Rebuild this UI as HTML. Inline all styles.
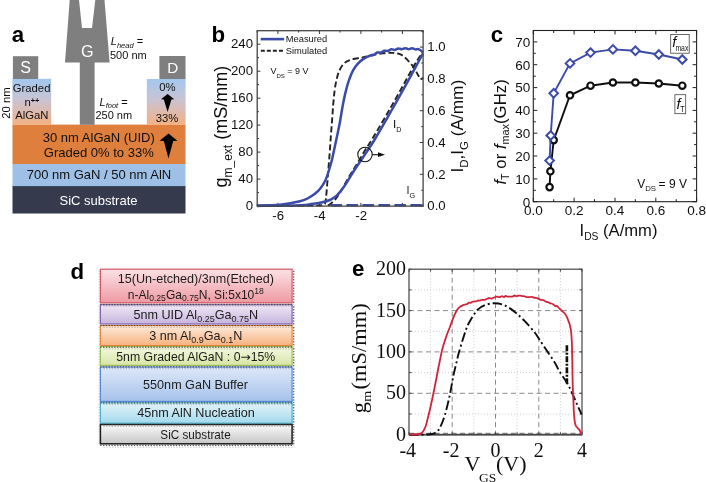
<!DOCTYPE html>
<html lang="en"><head><meta charset="utf-8"><title>Figure</title>
<style>html,body{margin:0;padding:0;background:#fff;}svg{display:block;}</style></head>
<body><svg width="706" height="482" viewBox="0 0 706 482">
<rect width="706" height="482" fill="#fff"/>
<defs><filter id="soft" x="0" y="0" width="706" height="482" filterUnits="userSpaceOnUse"><feGaussianBlur stdDeviation="0.45"/></filter></defs>
<g filter="url(#soft)">
<g id="pa" font-family="Liberation Sans, sans-serif">
<defs><linearGradient id="gr" x1="0" y1="0" x2="0" y2="1"><stop offset="0" stop-color="#a3c8ee"/><stop offset="0.45" stop-color="#c9c3d4"/><stop offset="1" stop-color="#f3b184"/></linearGradient></defs>
<rect x="12.5" y="185.8" width="173" height="27.7" fill="#343a4e"/>
<rect x="12.5" y="163.8" width="173" height="22.3" fill="#9fc0e6"/>
<rect x="12.5" y="124.6" width="173" height="39.4" fill="#de7f3e"/>
<rect x="12.4" y="78.8" width="38.8" height="46" fill="url(#gr)"/>
<rect x="146.8" y="79" width="38.8" height="45.8" fill="url(#gr)"/>
<rect x="12.9" y="56.2" width="25.3" height="22.8" fill="#7f7f7f"/>
<rect x="159.4" y="56" width="26.1" height="23" fill="#7f7f7f"/>
<path d="M69.7,0 L79,0 L82,28 L92,28 L95.3,0 L104.5,0 L109.6,62.6 L94.6,62.6 L94.6,124.8 L79.8,124.8 L79.8,62.6 L65,62.6 Z" fill="#7f7f7f"/>
<text transform="translate(11.8,42.4) scale(0.97,1)" font-size="23" font-weight="bold" fill="#000" font-family="Liberation Sans, sans-serif">a</text>
<text x="25.6" y="73.3" font-size="16" fill="#fff" text-anchor="middle">S</text>
<text x="172.7" y="73.2" font-size="15.3" fill="#fff" text-anchor="middle">D</text>
<text x="87.4" y="56.8" font-size="16.2" fill="#fff" text-anchor="middle">G</text>
<g font-size="11.3" fill="#111" text-anchor="middle">
<text x="31.6" y="92.4">Graded</text>
<text x="31.9" y="105.8">n<tspan font-size="7.4" font-weight="bold" dy="-3.2">++</tspan></text>
<text x="31.9" y="119.3">AlGaN</text>
<text transform="translate(10,103) rotate(-90)">20 nm</text>
<text x="167.4" y="91.3">0%</text>
<text x="167.1" y="122.2">33%</text>
</g>
<g font-size="11" fill="#111">
<text x="110.8" y="45.3"><tspan font-style="italic">L</tspan><tspan font-style="italic" font-size="7.5" dy="2.5">head</tspan><tspan dy="-2.5"> =</tspan></text>
<text x="110" y="58.5">500 nm</text>
<text x="99.5" y="105.8"><tspan font-style="italic">L</tspan><tspan font-style="italic" font-size="7.5" dy="2.5">foot</tspan><tspan dy="-2.5"> =</tspan></text>
<text x="95.4" y="119">250 nm</text>
</g>
<g font-size="13" fill="#111" text-anchor="middle">
<text x="98.8" y="141.7">30 nm AlGaN (UID)</text>
<text x="98.8" y="157">Graded 0% to 33%</text>
<text x="99" y="179.3">700 nm GaN / 50 nm AlN</text>
<text x="98.5" y="204.6" fill="#fff">SiC substrate</text>
</g>
<path d="M167.6,94 L174.2,99.3 L171.4,99.4 L167.6,112 L163.8,99.4 L161,99.3 Z" fill="#000"/>
<path d="M168.5,133.6 L177.4,140.7 L173.2,140.9 L168.5,158.5 L163.8,140.9 L159.6,140.7 Z" fill="#000"/>
</g>
<g id="pb" font-family="Liberation Sans, sans-serif">
<path d="M277.9,206.1 v-3.2 M277.9,30.7 v3.2 M319.4,206.1 v-3.2 M319.4,30.7 v3.2 M360.9,206.1 v-3.2 M360.9,30.7 v3.2 M402.4,206.1 v-3.2 M402.4,30.7 v3.2 M257.2,206.1 v-1.8 M257.2,30.7 v1.8 M298.7,206.1 v-1.8 M298.7,30.7 v1.8 M340.1,206.1 v-1.8 M340.1,30.7 v1.8 M381.6,206.1 v-1.8 M381.6,30.7 v1.8 M423.1,206.1 v-1.8 M423.1,30.7 v1.8 M257.2,206.1 h3.2 M257.2,179.1 h3.2 M257.2,152.1 h3.2 M257.2,125.1 h3.2 M257.2,98.2 h3.2 M257.2,71.2 h3.2 M257.2,44.2 h3.2 M257.2,192.6 h1.8 M257.2,165.6 h1.8 M257.2,138.6 h1.8 M257.2,111.7 h1.8 M257.2,84.7 h1.8 M257.2,57.7 h1.8 M423.1,206.1 h-3.2 M423.1,174.3 h-3.2 M423.1,142.5 h-3.2 M423.1,110.7 h-3.2 M423.1,78.9 h-3.2 M423.1,47.1 h-3.2 M423.1,190.2 h-1.8 M423.1,158.4 h-1.8 M423.1,126.6 h-1.8 M423.1,94.8 h-1.8 M423.1,63.0 h-1.8 M423.1,31.2 h-1.8" stroke="#333" stroke-width="1" fill="none"/>
<g font-size="13.2" fill="#111">
<text x="253" y="209.9" text-anchor="end">0</text>
<text x="253" y="182.9" text-anchor="end">40</text>
<text x="253" y="155.9" text-anchor="end">80</text>
<text x="253" y="128.9" text-anchor="end">120</text>
<text x="253" y="102.0" text-anchor="end">160</text>
<text x="253" y="75.0" text-anchor="end">200</text>
<text x="253" y="48.0" text-anchor="end">240</text>
<text x="427.3" y="210.3">0.0</text>
<text x="427.3" y="178.5">0.2</text>
<text x="427.3" y="146.7">0.4</text>
<text x="427.3" y="114.9">0.6</text>
<text x="427.3" y="83.1">0.8</text>
<text x="427.3" y="51.3">1.0</text>
<text x="278.2" y="220.2" text-anchor="middle">-6</text>
<text x="319.7" y="220.2" text-anchor="middle">-4</text>
<text x="361.2" y="220.2" text-anchor="middle">-2</text>
</g>
<path d="M298.0,205.6 C301.4,205.6 314.4,205.6 318.7,205.4 C323.0,205.2 322.9,205.2 324.0,204.6 C325.1,204.0 325.0,204.0 325.4,202.0 C325.8,200.0 326.1,197.4 326.5,192.7 C326.9,188.0 327.5,180.2 328.0,174.0 C328.5,167.8 329.0,161.5 329.5,155.3 C330.0,149.1 330.4,142.6 330.8,136.7 C331.2,130.8 331.7,125.2 332.1,119.9 C332.5,114.6 332.8,109.4 333.2,104.7 C333.6,100.0 334.0,95.6 334.5,91.6 C335.0,87.5 335.6,83.8 336.4,80.4 C337.2,77.0 337.9,73.9 339.2,71.1 C340.4,68.3 342.0,65.5 343.9,63.6 C345.8,61.7 347.4,60.9 350.4,59.9 C353.3,58.9 358.3,58.3 361.6,57.6 C364.9,56.9 366.5,56.5 370.0,55.8 C373.5,55.1 378.7,53.8 382.5,53.3 C386.3,52.8 389.7,52.7 392.8,52.9 C395.9,53.1 398.7,53.5 401.1,54.7 C403.5,55.9 405.3,57.8 407.4,59.9 C409.5,62.0 411.9,64.8 413.6,67.2 C415.3,69.6 416.5,72.4 417.7,74.4 C418.9,76.4 420.0,78.5 420.9,79.0 C421.8,79.5 422.6,77.8 422.9,77.6" fill="none" stroke="#222" stroke-width="1.9" stroke-dasharray="6 3"/>
<path d="M328.0,205.6 C328.5,205.2 329.8,204.6 331.0,203.5 C332.2,202.4 333.8,201.3 335.5,199.2 C337.2,197.1 338.9,194.4 341.1,190.8 C343.3,187.2 346.0,181.9 348.5,177.7 C351.0,173.5 353.4,169.9 356.0,165.6 C358.6,161.3 361.2,156.5 364.0,152.0 C366.8,147.5 368.3,145.5 372.5,138.5 C376.7,131.5 383.7,119.8 389.3,110.0 C394.9,100.2 402.0,87.4 406.1,80.0 C410.2,72.6 411.7,69.7 414.0,65.8 C416.3,61.9 418.3,58.6 419.8,56.5 C421.3,54.4 422.4,53.8 422.9,53.3" fill="none" stroke="#222" stroke-width="1.9" stroke-dasharray="6 3"/>
<path d="M257.2,205.6 C261.0,205.5 272.9,205.5 280.0,204.8 C287.1,204.1 295.4,202.4 300.0,201.3 C304.6,200.2 305.0,199.8 307.5,198.5 C310.0,197.2 312.7,195.5 314.9,193.8 C317.1,192.1 318.8,190.4 320.5,188.2 C322.2,186.0 323.8,183.6 325.2,180.7 C326.6,177.8 327.8,174.1 328.9,170.5 C330.0,166.9 331.1,163.4 332.1,159.3 C333.1,155.2 334.0,150.2 334.9,146.2 C335.8,142.1 336.5,138.7 337.3,135.0 C338.1,131.3 339.1,126.6 339.6,123.8 C340.2,121.0 340.1,121.2 340.6,118.0 C341.2,114.8 342.0,109.1 342.9,104.7 C343.8,100.3 344.7,95.6 345.7,91.6 C346.7,87.5 347.6,84.0 348.9,80.4 C350.1,76.8 351.7,72.9 353.2,70.1 C354.7,67.3 356.2,65.5 357.9,63.6 C359.6,61.7 361.4,60.3 363.5,58.9 C365.6,57.5 369.1,56.1 370.5,55.4 C371.9,54.7 371.5,55.0 372.0,54.9 C372.5,54.8 373.2,55.0 373.8,54.8 C374.3,54.6 374.9,54.0 375.5,53.6 C376.1,53.2 376.7,52.7 377.2,52.5 C377.8,52.3 378.4,52.4 379.0,52.5 C379.6,52.5 380.2,52.7 380.8,52.6 C381.3,52.5 381.9,52.0 382.5,51.7 C383.1,51.3 383.7,50.8 384.2,50.7 C384.8,50.6 385.4,50.8 386.0,50.8 C386.6,50.9 387.2,51.1 387.8,51.0 C388.3,50.9 388.9,50.3 389.5,50.0 C390.1,49.7 390.7,49.3 391.2,49.2 C391.8,49.1 392.4,49.4 393.0,49.5 C393.6,49.7 394.2,50.0 394.8,49.9 C395.3,49.8 395.9,49.4 396.5,49.2 C397.1,48.9 397.7,48.5 398.2,48.4 C398.8,48.4 399.4,48.7 400.0,48.8 C400.6,48.9 401.2,49.3 401.8,49.2 C402.3,49.2 402.9,48.9 403.5,48.7 C404.1,48.5 404.7,48.2 405.2,48.2 C405.8,48.2 406.4,48.5 407.0,48.7 C407.6,48.9 408.2,49.2 408.8,49.2 C409.3,49.2 409.9,48.9 410.5,48.7 C411.1,48.5 411.7,48.2 412.2,48.2 C412.8,48.2 413.4,48.6 414.0,48.8 C414.6,49.1 415.2,49.5 415.8,49.5 C416.3,49.5 416.7,48.9 417.5,49.0 C418.3,49.1 419.6,49.6 420.5,50.2 C421.4,50.8 422.5,52.2 422.9,52.6" fill="none" stroke="#3b4ba8" stroke-width="2.5" stroke-linejoin="round"/>
<path d="M257.2,205.9 C264.3,205.8 291.0,205.5 300.0,205.2 C309.0,204.9 307.5,204.6 311.2,204.1 C314.9,203.6 319.3,202.9 322.4,202.2 C325.5,201.5 327.7,200.9 329.9,200.0 C332.1,199.1 333.8,197.9 335.5,196.6 C337.2,195.2 338.2,194.2 340.1,191.9 C342.0,189.6 344.4,186.2 346.7,182.6 C349.0,179.0 351.2,175.1 354.1,170.5 C357.1,165.9 360.9,160.6 364.4,155.3 C367.9,150.1 370.4,146.6 375.0,139.0 C379.6,131.4 386.2,119.8 391.8,110.0 C397.4,100.2 404.6,87.2 408.6,80.0 C412.6,72.8 413.3,71.2 415.7,66.8 C418.1,62.4 421.7,55.9 422.9,53.7" fill="none" stroke="#3b4ba8" stroke-width="2.5"/>
<path d="M330.4,205.3 H423.1" fill="none" stroke="#3b4ba8" stroke-width="2.4" stroke-dasharray="11.5 4.5"/>
<rect x="257.2" y="30.7" width="165.9" height="175.4" fill="none" stroke="#444" stroke-width="1.3"/>
<path d="M260.7,39.1 h23.4" stroke="#3b4ba8" stroke-width="2.6"/>
<path d="M260.8,50.7 h22.2" stroke="#222" stroke-width="2" stroke-dasharray="4 2.05"/>
<text x="285.8" y="42.4" font-size="9.3" fill="#111">Measured</text>
<text x="285.8" y="54" font-size="9.3" fill="#111">Simulated</text>
<text x="270.5" y="74" font-size="9" fill="#111">V<tspan font-size="6" dy="3.7">DS</tspan><tspan dy="-3.7"> = 9 V</tspan></text>
<circle cx="365" cy="154.5" r="7.2" fill="none" stroke="#111" stroke-width="1.1"/>
<path d="M372.2,154.7 H379" stroke="#111" stroke-width="1.1"/><path d="M385,154.7 l-7,-2.4 v4.8 z" fill="#111"/>
<text x="393" y="128" font-size="11.6" fill="#111">I<tspan font-size="7.2" dy="4.3">D</tspan></text>
<text x="406.6" y="193.6" font-size="10.8" fill="#111">I<tspan font-size="7.2" dy="4.2">G</tspan></text>
<text transform="translate(227.4,187.5) rotate(-90)" font-size="18" fill="#111">g<tspan font-size="12" dy="5">m_ext</tspan><tspan dy="-5"> (mS/mm)</tspan></text>
<text transform="translate(463.2,172.6) rotate(-90)" font-size="17.2" fill="#111">I<tspan font-size="11.5" dy="4.5">D</tspan><tspan dy="-4.5">,I</tspan><tspan font-size="11.5" dy="4.5">G</tspan><tspan dy="-4.5"> (A/mm)</tspan></text>
<text transform="translate(211.6,42.4) scale(0.97,1)" font-size="23" font-weight="bold" fill="#000" font-family="Liberation Sans, sans-serif">b</text>
</g>
<g id="pc" font-family="Liberation Sans, sans-serif">
<rect x="533.3" y="30.5" width="163.3" height="171.2" fill="none" stroke="#222" stroke-width="1.1"/>
<path d="M533.3,201.7 v-4 M533.3,30.5 v4 M574.1,201.7 v-4 M574.1,30.5 v4 M615.0,201.7 v-4 M615.0,30.5 v4 M655.8,201.7 v-4 M655.8,30.5 v4 M696.6,201.7 v-4 M696.6,30.5 v4 M553.7,201.7 v-2.5 M553.7,30.5 v2.5 M594.5,201.7 v-2.5 M594.5,30.5 v2.5 M635.4,201.7 v-2.5 M635.4,30.5 v2.5 M676.2,201.7 v-2.5 M676.2,30.5 v2.5 M533.3,201.7 h4 M696.6,201.7 h-4 M533.3,178.9 h4 M696.6,178.9 h-4 M533.3,156.0 h4 M696.6,156.0 h-4 M533.3,133.2 h4 M696.6,133.2 h-4 M533.3,110.4 h4 M696.6,110.4 h-4 M533.3,87.6 h4 M696.6,87.6 h-4 M533.3,64.7 h4 M696.6,64.7 h-4 M533.3,41.9 h4 M696.6,41.9 h-4 M533.3,190.3 h2.5 M696.6,190.3 h-2.5 M533.3,167.5 h2.5 M696.6,167.5 h-2.5 M533.3,144.6 h2.5 M696.6,144.6 h-2.5 M533.3,121.8 h2.5 M696.6,121.8 h-2.5 M533.3,99.0 h2.5 M696.6,99.0 h-2.5 M533.3,76.2 h2.5 M696.6,76.2 h-2.5 M533.3,53.3 h2.5 M696.6,53.3 h-2.5" stroke="#222" stroke-width="1" fill="none"/>
<g font-size="13.5" fill="#111">
<text x="530.2" y="206.5" text-anchor="end">0</text>
<text x="530.2" y="183.7" text-anchor="end">10</text>
<text x="530.2" y="160.8" text-anchor="end">20</text>
<text x="530.2" y="138.0" text-anchor="end">30</text>
<text x="530.2" y="115.2" text-anchor="end">40</text>
<text x="530.2" y="92.4" text-anchor="end">50</text>
<text x="530.2" y="69.5" text-anchor="end">60</text>
<text x="530.2" y="46.7" text-anchor="end">70</text>
<text x="533.3" y="215.3" text-anchor="middle">0.0</text>
<text x="574.1" y="215.3" text-anchor="middle">0.2</text>
<text x="615.0" y="215.3" text-anchor="middle">0.4</text>
<text x="655.8" y="215.3" text-anchor="middle">0.6</text>
<text x="696.6" y="215.3" text-anchor="middle">0.8</text>
</g>
<path d="M549.6,187.1 L550.4,171.3 L553.7,140.1 L570.0,95.3 L590.5,85.7 L612.9,82.5 L635.4,82.5 L658.8,83.5 L682.3,85.7" fill="none" stroke="#111" stroke-width="1.9"/>
<circle cx="549.6" cy="187.1" r="3.2" fill="#fff" stroke="#111" stroke-width="2.2"/>
<circle cx="550.4" cy="171.3" r="3.2" fill="#fff" stroke="#111" stroke-width="2.2"/>
<circle cx="553.7" cy="140.1" r="3.2" fill="#fff" stroke="#111" stroke-width="2.2"/>
<circle cx="570.0" cy="95.3" r="3.2" fill="#fff" stroke="#111" stroke-width="2.2"/>
<circle cx="590.5" cy="85.7" r="3.2" fill="#fff" stroke="#111" stroke-width="2.2"/>
<circle cx="612.9" cy="82.5" r="3.2" fill="#fff" stroke="#111" stroke-width="2.2"/>
<circle cx="635.4" cy="82.5" r="3.2" fill="#fff" stroke="#111" stroke-width="2.2"/>
<circle cx="658.8" cy="83.5" r="3.2" fill="#fff" stroke="#111" stroke-width="2.2"/>
<circle cx="682.3" cy="85.7" r="3.2" fill="#fff" stroke="#111" stroke-width="2.2"/>
<path d="M549.6,160.6 L550.7,135.5 L553.7,93.3 L570.0,63.4 L590.5,52.6 L612.9,49.4 L635.4,50.8 L658.8,54.5 L682.3,59.5" fill="none" stroke="#3b4ba8" stroke-width="1.9"/>
<path d="M549.6,156.3 L553.9,160.6 L549.6,164.9 L545.3,160.6 Z" fill="#fff" stroke="#3b4ba8" stroke-width="2"/>
<path d="M550.7,131.2 L555.0,135.5 L550.7,139.8 L546.4,135.5 Z" fill="#fff" stroke="#3b4ba8" stroke-width="2"/>
<path d="M553.7,89.0 L558.0,93.3 L553.7,97.6 L549.4,93.3 Z" fill="#fff" stroke="#3b4ba8" stroke-width="2"/>
<path d="M570.0,59.1 L574.3,63.4 L570.0,67.7 L565.7,63.4 Z" fill="#fff" stroke="#3b4ba8" stroke-width="2"/>
<path d="M590.5,48.3 L594.8,52.6 L590.5,56.9 L586.2,52.6 Z" fill="#fff" stroke="#3b4ba8" stroke-width="2"/>
<path d="M612.9,45.1 L617.2,49.4 L612.9,53.7 L608.6,49.4 Z" fill="#fff" stroke="#3b4ba8" stroke-width="2"/>
<path d="M635.4,46.5 L639.7,50.8 L635.4,55.1 L631.1,50.8 Z" fill="#fff" stroke="#3b4ba8" stroke-width="2"/>
<path d="M658.8,50.2 L663.1,54.5 L658.8,58.8 L654.5,54.5 Z" fill="#fff" stroke="#3b4ba8" stroke-width="2"/>
<path d="M682.3,55.2 L686.6,59.5 L682.3,63.8 L678.0,59.5 Z" fill="#fff" stroke="#3b4ba8" stroke-width="2"/>
<rect x="670.7" y="34.5" width="18.5" height="18.7" fill="#fff" stroke="#444" stroke-width="0.8"/>
<text x="672.2" y="47.2" font-size="14.5" font-style="italic" fill="#111">f</text>
<text transform="translate(675.4,51.3) scale(0.8,1)" font-size="8.6" fill="#111">max</text>
<rect x="674.9" y="94.7" width="10.8" height="19" fill="#fff" stroke="#444" stroke-width="0.8"/>
<text x="676.6" y="108.6" font-size="14.5" font-style="italic" fill="#111">f</text>
<text transform="translate(680.2,111.8) scale(0.85,1)" font-size="8.4" fill="#111">T</text>
<text x="637.2" y="188.2" font-size="12" fill="#111">V<tspan font-size="7.8" dy="3.2">DS</tspan><tspan dy="-3.2" dx="-0.8"> = 9 V</tspan></text>
<text x="618.5" y="235.6" font-size="16.6" fill="#111" text-anchor="middle">I<tspan font-size="10.3" dy="4.6">DS</tspan><tspan dy="-4.6"> (A/mm)</tspan></text>
<text transform="translate(505.6,184.6) rotate(-90)" font-size="16.8" fill="#111"><tspan font-style="italic">f</tspan><tspan font-size="10.8" dy="3.3">T</tspan><tspan dy="-3.3"> or </tspan><tspan font-style="italic">f</tspan><tspan font-size="10.8" dy="3.3">max</tspan><tspan dy="-3.3">(GHz)</tspan></text>
<text transform="translate(490.8,42.4) scale(0.97,1)" font-size="23" font-weight="bold" fill="#000" font-family="Liberation Sans, sans-serif">c</text>
</g>
<g id="pd" font-family="Liberation Sans, sans-serif">
<defs>
<linearGradient id="lr" x1="0" y1="0" x2="0" y2="1"><stop offset="0" stop-color="#fbe2e4"/><stop offset="1" stop-color="#ee9aa3"/></linearGradient>
<linearGradient id="lp" x1="0" y1="0" x2="0" y2="1"><stop offset="0" stop-color="#efe9f5"/><stop offset="1" stop-color="#c6b4de"/></linearGradient>
<linearGradient id="lo" x1="0" y1="0" x2="0" y2="1"><stop offset="0" stop-color="#fdebdc"/><stop offset="1" stop-color="#f7b27e"/></linearGradient>
<linearGradient id="lg" x1="0" y1="0" x2="0" y2="1"><stop offset="0" stop-color="#f5f8e3"/><stop offset="1" stop-color="#d7e5a6"/></linearGradient>
<linearGradient id="lb" x1="0" y1="0" x2="0" y2="1"><stop offset="0" stop-color="#dde8f8"/><stop offset="1" stop-color="#a6c2ea"/></linearGradient>
<linearGradient id="lc" x1="0" y1="0" x2="0" y2="1"><stop offset="0" stop-color="#e3f4fa"/><stop offset="1" stop-color="#a3d9ec"/></linearGradient>
<linearGradient id="lk" x1="0" y1="0" x2="0" y2="1"><stop offset="0" stop-color="#fbfbfb"/><stop offset="1" stop-color="#c6c6c6"/></linearGradient>
</defs>
<rect x="100.4" y="269.2" width="191.7" height="33.6" fill="url(#lr)" stroke="#d25866" stroke-width="1.2"/>
<rect x="100.4" y="304.8" width="191.7" height="19.2" fill="url(#lp)" stroke="#8064a8" stroke-width="1.2"/>
<rect x="100.4" y="325.6" width="191.7" height="20.0" fill="url(#lo)" stroke="#e3853c" stroke-width="1.2"/>
<rect x="100.4" y="346.6" width="191.7" height="18.8" fill="url(#lg)" stroke="#9dbd58" stroke-width="1.2"/>
<rect x="100.4" y="367.0" width="191.7" height="34.4" fill="url(#lb)" stroke="#5888cf" stroke-width="1.2"/>
<rect x="100.4" y="402.8" width="191.7" height="20.4" fill="url(#lc)" stroke="#4baecb" stroke-width="1.2"/>
<rect x="100.4" y="424.5" width="191.7" height="19.3" fill="url(#lk)" stroke="#1a1a1a" stroke-width="1.5"/>
<path d="M100.2,304.3 H293.6 M293.7,270.7 V304.3" stroke="#3a3a3a" stroke-width="1.2" stroke-dasharray="1.4 1.4" fill="none" opacity="0.8"/>
<path d="M99.2,270.2 V303.8" stroke="#555" stroke-width="1" stroke-dasharray="1.4 1.4" fill="none" opacity="0.35"/>
<path d="M102,306.1 H294.6" stroke="#666" stroke-width="1" stroke-dasharray="1.4 1.4" stroke-dashoffset="1.4" fill="none" opacity="0.4"/>
<path d="M100.2,325.5 H293.6 M293.7,306.3 V325.5" stroke="#3a3a3a" stroke-width="1.2" stroke-dasharray="1.4 1.4" fill="none" opacity="0.8"/>
<path d="M99.2,305.8 V325.0" stroke="#555" stroke-width="1" stroke-dasharray="1.4 1.4" fill="none" opacity="0.35"/>
<path d="M102,327.3 H294.6" stroke="#666" stroke-width="1" stroke-dasharray="1.4 1.4" stroke-dashoffset="1.4" fill="none" opacity="0.4"/>
<path d="M100.2,347.1 H293.6 M293.7,327.1 V347.1" stroke="#3a3a3a" stroke-width="1.2" stroke-dasharray="1.4 1.4" fill="none" opacity="0.8"/>
<path d="M99.2,326.6 V346.6" stroke="#555" stroke-width="1" stroke-dasharray="1.4 1.4" fill="none" opacity="0.35"/>
<path d="M102,348.9 H294.6" stroke="#666" stroke-width="1" stroke-dasharray="1.4 1.4" stroke-dashoffset="1.4" fill="none" opacity="0.4"/>
<path d="M100.2,366.9 H293.6 M293.7,348.1 V366.9" stroke="#3a3a3a" stroke-width="1.2" stroke-dasharray="1.4 1.4" fill="none" opacity="0.8"/>
<path d="M99.2,347.6 V366.4" stroke="#555" stroke-width="1" stroke-dasharray="1.4 1.4" fill="none" opacity="0.35"/>
<path d="M102,368.7 H294.6" stroke="#666" stroke-width="1" stroke-dasharray="1.4 1.4" stroke-dashoffset="1.4" fill="none" opacity="0.4"/>
<path d="M100.2,402.9 H293.6 M293.7,368.5 V402.9" stroke="#3a3a3a" stroke-width="1.2" stroke-dasharray="1.4 1.4" fill="none" opacity="0.8"/>
<path d="M99.2,368.0 V402.4" stroke="#555" stroke-width="1" stroke-dasharray="1.4 1.4" fill="none" opacity="0.35"/>
<path d="M102,404.7 H294.6" stroke="#666" stroke-width="1" stroke-dasharray="1.4 1.4" stroke-dashoffset="1.4" fill="none" opacity="0.4"/>
<path d="M100.2,424.7 H293.6 M293.7,404.3 V424.7" stroke="#3a3a3a" stroke-width="1.2" stroke-dasharray="1.4 1.4" fill="none" opacity="0.8"/>
<path d="M99.2,403.8 V424.2" stroke="#555" stroke-width="1" stroke-dasharray="1.4 1.4" fill="none" opacity="0.35"/>
<path d="M102,426.5 H294.6" stroke="#666" stroke-width="1" stroke-dasharray="1.4 1.4" stroke-dashoffset="1.4" fill="none" opacity="0.4"/>
<path d="M100.2,445.3 H293.6 M293.7,426.0 V445.3" stroke="#3a3a3a" stroke-width="1.2" stroke-dasharray="1.4 1.4" fill="none" opacity="0.8"/>
<path d="M99.2,425.5 V444.8" stroke="#555" stroke-width="1" stroke-dasharray="1.4 1.4" fill="none" opacity="0.35"/>
<path d="M102,447.1 H294.6" stroke="#666" stroke-width="1" stroke-dasharray="1.4 1.4" stroke-dashoffset="1.4" fill="none" opacity="0.4"/>
<g font-size="12.6" fill="#1c1c1c" text-anchor="middle">
<text x="195.8" y="282.9">15(Un-etched)/3nm(Etched)</text>
<text transform="translate(195.8,298.5) scale(0.957,1)">n-Al<tspan font-size="9" dy="2.6">0.25</tspan><tspan dy="-2.6">Ga</tspan><tspan font-size="9" dy="2.6">0.75</tspan><tspan dy="-2.6">N, Si:5x10</tspan><tspan font-size="9" dy="-4.4">18</tspan></text>
<text x="195.8" y="318.9">5nm UID Al<tspan font-size="9" dy="2.6">0.25</tspan><tspan dy="-2.6">Ga</tspan><tspan font-size="9" dy="2.6">0.75</tspan><tspan dy="-2.6">N</tspan></text>
<text x="195.8" y="340">3 nm Al<tspan font-size="9" dy="2.6">0.9</tspan><tspan dy="-2.6">Ga</tspan><tspan font-size="9" dy="2.6">0.1</tspan><tspan dy="-2.6">N</tspan></text>
<text transform="translate(195.8,360.9) scale(0.975,1)">5nm Graded AlGaN : 0<tspan font-family="DejaVu Sans, sans-serif" font-size="12.5">→</tspan>15%</text>
<text x="195.5" y="389.4">550nm GaN Buffer</text>
<text x="196" y="417.3">45nm AlN Nucleation</text>
<text transform="translate(195.5,438.9) scale(0.93,1)">SiC substrate</text>
</g>
<text transform="translate(70.5,279) scale(0.97,1)" font-size="23" font-weight="bold" fill="#000" font-family="Liberation Sans, sans-serif">d</text>
</g>
<g id="pe" font-family="Liberation Serif, serif">
<path d="M430.6,269.2 V434.7 M473.9,269.2 V434.7 M517.1,269.2 V434.7 M560.4,269.2 V434.7 M409.0,414.0 H582.0 M409.0,372.6 H582.0 M409.0,331.3 H582.0 M409.0,289.9 H582.0" stroke="#c8c8c8" stroke-width="0.9" stroke-dasharray="1 2" fill="none"/>
<path d="M452.2,269.2 V434.7 M495.5,269.2 V434.7 M538.8,269.2 V434.7 M409.0,393.3 H582.0 M409.0,351.9 H582.0 M409.0,310.6 H582.0" stroke="#8a8a8a" stroke-width="1" stroke-dasharray="5 3.5" fill="none"/>
<path d="M409.0,433.4 H582.0" stroke="#888" stroke-width="1.2" stroke-dasharray="5 3.5" fill="none"/>
<path d="M409.0,434.7 H582.0" stroke="#555" stroke-width="1.7" fill="none"/>
<rect x="409.0" y="269.2" width="173.0" height="165.5" fill="none" stroke="#444" stroke-width="1.2"/>
<path d="M409.0,434.7 v-2.5 M409.0,269.2 v2.5 M430.6,434.7 v-2.5 M430.6,269.2 v2.5 M452.2,434.7 v-2.5 M452.2,269.2 v2.5 M473.9,434.7 v-2.5 M473.9,269.2 v2.5 M495.5,434.7 v-2.5 M495.5,269.2 v2.5 M517.1,434.7 v-2.5 M517.1,269.2 v2.5 M538.8,434.7 v-2.5 M538.8,269.2 v2.5 M560.4,434.7 v-2.5 M560.4,269.2 v2.5 M582.0,434.7 v-2.5 M582.0,269.2 v2.5 M409.0,434.7 h2.5 M582.0,434.7 h-2.5 M409.0,414.0 h2.5 M582.0,414.0 h-2.5 M409.0,393.3 h2.5 M582.0,393.3 h-2.5 M409.0,372.6 h2.5 M582.0,372.6 h-2.5 M409.0,351.9 h2.5 M582.0,351.9 h-2.5 M409.0,331.3 h2.5 M582.0,331.3 h-2.5 M409.0,310.6 h2.5 M582.0,310.6 h-2.5 M409.0,289.9 h2.5 M582.0,289.9 h-2.5 M409.0,269.2 h2.5 M582.0,269.2 h-2.5" stroke="#444" stroke-width="1" fill="none"/>
<path d="M409.0,434.7 C411.2,434.7 418.4,434.8 422.0,434.7 C425.6,434.6 428.5,434.5 430.6,434.2 C432.8,433.9 433.5,434.1 434.9,433.0 C436.4,432.0 438.0,431.1 439.6,428.2 C441.2,425.3 443.0,421.0 444.7,415.6 C446.4,410.2 448.2,402.3 449.7,395.6 C451.1,388.8 452.3,381.0 453.5,375.1 C454.8,369.2 456.0,364.4 457.0,360.2 C458.0,356.0 458.1,355.1 459.6,350.0 C461.1,345.0 464.2,334.7 465.9,330.0 C467.5,325.3 467.6,325.1 469.6,321.7 C471.5,318.4 474.9,312.7 477.4,309.9 C480.0,307.2 482.0,306.3 484.9,305.2 C487.8,304.1 491.5,303.2 494.9,303.2 C498.2,303.3 501.5,304.0 504.8,305.4 C508.1,306.9 511.5,309.3 514.8,311.9 C518.1,314.5 521.5,317.8 524.8,321.2 C528.1,324.7 532.2,329.4 534.7,332.5 C537.2,335.6 537.6,336.9 539.7,340.0 C541.8,343.2 544.7,347.5 547.2,351.3 C549.7,355.0 552.6,359.1 554.7,362.5 C556.8,366.0 557.7,368.4 559.7,371.8 C561.8,375.2 565.0,379.5 567.1,383.0 C569.1,386.5 570.4,389.4 572.1,393.0 C573.7,396.6 575.4,400.8 577.0,404.3 C578.6,407.9 580.8,412.7 581.6,414.3" fill="none" stroke="#111" stroke-width="1.9" stroke-dasharray="9.5 3 2 3"/>
<path d="M566.9,345.3 V383.4" stroke="#111" stroke-width="2.6" stroke-dasharray="6 1.5 2 1.5"/>
<path d="M409.0,434.7 C409.6,434.7 413.4,434.6 414.4,434.5 C415.4,434.5 416.6,434.4 417.2,434.3 C417.8,434.2 419.2,434.1 419.8,433.9 C420.4,433.7 421.7,433.1 422.2,432.6 C422.7,432.1 423.7,430.6 424.1,429.7 C424.6,428.9 425.2,427.8 425.9,425.6 C426.5,423.4 428.6,414.9 429.7,410.5 C430.7,406.2 433.5,393.1 434.5,388.0 C435.6,382.9 437.7,371.3 438.6,366.8 C439.5,362.4 441.3,353.4 442.1,350.0 C442.9,346.7 444.9,340.5 445.8,337.9 C446.6,335.2 448.6,330.2 449.7,327.5 C450.7,324.8 453.7,316.9 454.6,314.7 C455.6,312.6 457.0,310.0 457.7,309.1 C458.3,308.2 459.4,307.2 460.0,306.8 C460.7,306.3 462.5,305.4 463.1,305.1 C463.7,304.9 464.8,304.6 465.2,304.5 C465.7,304.4 466.6,304.3 467.1,304.0 C467.5,303.8 468.5,302.8 468.9,302.7 C469.3,302.5 470.3,303.0 470.7,302.8 C471.2,302.7 472.1,301.8 472.6,301.7 C473.0,301.5 474.0,301.4 474.4,301.4 C474.8,301.3 475.8,301.5 476.3,301.4 C476.7,301.3 477.7,300.5 478.1,300.5 C478.5,300.4 479.5,300.8 479.9,300.7 C480.4,300.6 481.3,299.9 481.8,299.8 C482.2,299.7 483.2,300.0 483.6,299.9 C484.0,299.9 485.0,299.7 485.4,299.6 C485.9,299.4 486.9,299.0 487.3,298.8 C487.7,298.6 488.7,298.0 489.1,298.0 C489.5,297.9 490.5,298.6 491.0,298.6 C491.4,298.6 492.4,298.3 492.8,298.1 C493.2,298.0 494.2,297.5 494.6,297.3 C495.1,297.1 496.0,296.7 496.5,296.7 C496.9,296.6 497.9,296.9 498.3,297.0 C498.7,297.0 499.7,297.2 500.1,297.1 C500.6,297.0 501.6,296.1 502.0,296.1 C502.4,296.1 503.4,297.2 503.8,297.2 C504.3,297.2 505.2,296.0 505.7,295.9 C506.1,295.9 507.1,296.5 507.5,296.6 C507.9,296.6 508.9,296.7 509.3,296.7 C509.8,296.7 510.7,296.7 511.2,296.6 C511.6,296.6 512.6,296.4 513.0,296.3 C513.4,296.1 514.4,295.5 514.9,295.5 C515.3,295.5 516.3,296.2 516.7,296.3 C517.1,296.3 518.1,295.7 518.5,295.6 C519.0,295.6 519.9,295.5 520.4,295.6 C520.8,295.6 521.8,296.1 522.2,296.1 C522.6,296.2 523.6,296.0 524.0,296.1 C524.5,296.2 525.5,296.8 525.9,297.0 C526.3,297.1 527.3,297.2 527.7,297.2 C528.2,297.2 529.1,297.3 529.6,297.2 C530.0,297.2 531.0,296.8 531.4,296.8 C531.8,296.8 532.8,297.2 533.2,297.3 C533.7,297.5 534.6,297.7 535.1,297.8 C535.5,297.9 536.5,298.0 536.9,298.1 C537.3,298.2 538.3,298.7 538.8,298.9 C539.2,299.1 540.2,299.7 540.6,299.8 C541.0,299.9 542.0,299.7 542.4,299.8 C542.9,299.9 543.8,300.3 544.3,300.6 C544.7,300.8 545.7,301.7 546.1,301.8 C546.5,302.0 547.5,302.0 547.9,302.2 C548.4,302.3 549.3,302.9 549.8,303.1 C550.2,303.3 551.2,303.3 551.6,303.5 C552.0,303.7 553.0,304.3 553.5,304.6 C553.9,304.9 554.9,305.9 555.3,306.1 C555.7,306.2 556.7,305.8 557.1,306.0 C557.6,306.3 558.1,307.2 559.0,308.1 C559.9,308.9 563.8,312.4 564.7,313.5 C565.6,314.6 566.5,316.2 567.1,317.4 C567.6,318.7 569.0,322.3 569.5,323.8 C569.9,325.3 570.6,328.2 570.9,330.0 C571.1,331.9 571.6,337.2 571.7,339.5 C571.9,341.9 572.0,347.6 572.1,350.0 C572.1,352.5 572.2,356.9 572.3,360.5 C572.3,364.0 572.5,375.8 572.6,380.5 C572.7,385.2 573.2,396.4 573.4,400.5 C573.5,404.6 573.9,413.0 574.1,415.6 C574.3,418.1 574.7,421.1 574.9,422.3 C575.1,423.5 575.5,424.9 575.8,425.6 C576.2,426.3 577.3,427.6 577.7,428.1 C578.1,428.5 578.8,429.0 579.1,429.4 C579.4,429.8 580.2,431.2 580.5,431.8 C580.8,432.4 581.4,434.1 581.6,434.4" fill="none" stroke="#d3243a" stroke-width="1.8" stroke-linejoin="round"/>
<g font-size="20" fill="#111">
<text x="406" y="440.7" text-anchor="end">0</text>
<text x="406" y="399.3" text-anchor="end">50</text>
<text x="406" y="357.9" text-anchor="end">100</text>
<text x="406" y="316.6" text-anchor="end">150</text>
<text x="406" y="275.2" text-anchor="end">200</text>
<text x="407.8" y="456.5" text-anchor="middle">-4</text>
<text x="451.1" y="456.5" text-anchor="middle">-2</text>
<text x="495.5" y="456.5" text-anchor="middle">0</text>
<text x="538.8" y="456.5" text-anchor="middle">2</text>
<text x="582.0" y="456.5" text-anchor="middle">4</text>
</g>
<text x="464.4" y="471.3" font-size="22" fill="#111">V<tspan font-size="13.5" dy="10.6" dx="-1.2">GS</tspan><tspan dy="-10.6" dx="-0.4">(V)</tspan></text>
<text transform="translate(365.6,413.2) rotate(-90) scale(1.045,1)" font-size="21.5" fill="#111">g<tspan font-size="13.5" dy="5.5" dx="0.3">m</tspan><tspan dy="-5.5" dx="1.2">(mS/mm)</tspan></text>
<text transform="translate(352.1,275.8) scale(0.97,1)" font-size="23" font-weight="bold" fill="#000" font-family="Liberation Sans, sans-serif">e</text>
</g>
</g>
</svg></body></html>
